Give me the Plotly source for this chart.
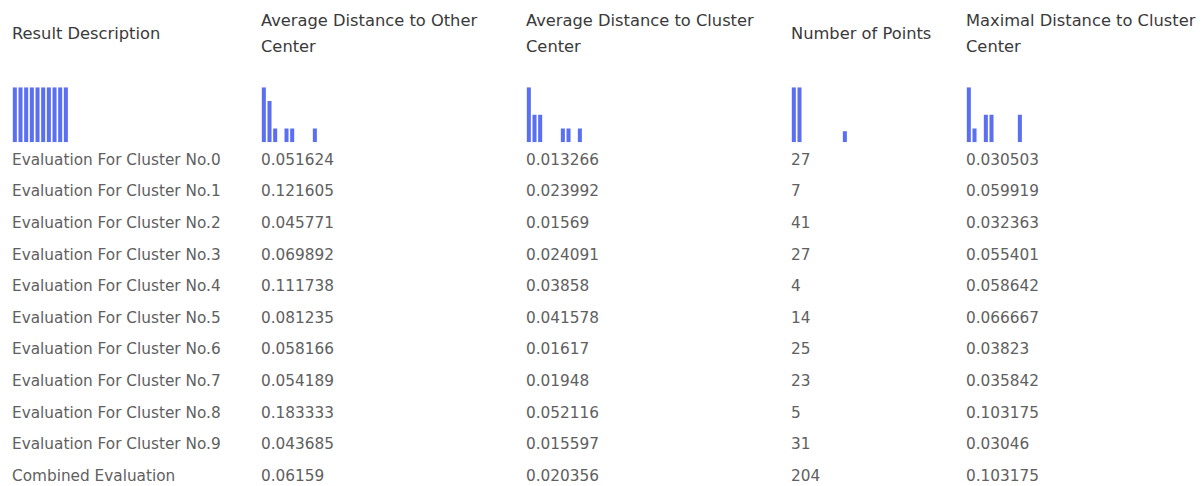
import numpy as np
import plotly.graph_objects as go

# ---------------- data ----------------
descriptions = [
    "Evaluation For Cluster No.0", "Evaluation For Cluster No.1", "Evaluation For Cluster No.2",
    "Evaluation For Cluster No.3", "Evaluation For Cluster No.4", "Evaluation For Cluster No.5",
    "Evaluation For Cluster No.6", "Evaluation For Cluster No.7", "Evaluation For Cluster No.8",
    "Evaluation For Cluster No.9", "Combined Evaluation",
]
avg_dist_other = [0.051624, 0.121605, 0.045771, 0.069892, 0.111738, 0.081235,
                  0.058166, 0.054189, 0.183333, 0.043685, 0.06159]
avg_dist_center = [0.013266, 0.023992, 0.01569, 0.024091, 0.03858, 0.041578,
                   0.01617, 0.01948, 0.052116, 0.015597, 0.020356]
num_points = [27, 7, 41, 27, 4, 14, 25, 23, 5, 31, 204]
max_dist_center = [0.030503, 0.059919, 0.032363, 0.055401, 0.058642, 0.066667,
                   0.03823, 0.035842, 0.103175, 0.03046, 0.103175]
headers = [
    ["Result Description"],
    ["Average Distance to Other", "Center"],
    ["Average Distance to Cluster", "Center"],
    ["Number of Points"],
    ["Maximal Distance to Cluster", "Center"],
]

# ---------------- layout constants ----------------
W, H = 1203, 486
COL_X = [12, 261, 526, 791, 966]
ROW0, ROW_H = 161, 31.6
HDR_SINGLE_Y, HDR_L1_Y, HDR_L2_Y = 35, 22, 48
BAR_TOP, BAR_BOT = 87.3, 142.3
HIST_W = 56.7
NBINS = 10
BAR_COLOR = "#5a6ff2"
FONT = "DejaVu Sans, sans-serif"
DATA_SIZE = 15.3
HDR_SIZE = 16.3

columns = [descriptions, avg_dist_other, avg_dist_center, num_points, max_dist_center]

fig = go.Figure()

# ---------------- data cells ----------------
cell_x, cell_y, cell_t = [], [], []
for c, col in enumerate(columns):
    for r, v in enumerate(col):
        cell_x.append(COL_X[c])
        cell_y.append(ROW0 + r * ROW_H)
        cell_t.append(str(v))
fig.add_trace(go.Scatter(
    x=cell_x, y=cell_y, text=cell_t, mode="text", textposition="middle right",
    textfont=dict(family=FONT, size=DATA_SIZE, color="#606060"),
    hoverinfo="skip", showlegend=False, xaxis="x", yaxis="y"))

# ---------------- header cells ----------------
hx, hy, ht = [], [], []
for c, lines in enumerate(headers):
    if len(lines) == 1:
        hx.append(COL_X[c]); hy.append(HDR_SINGLE_Y); ht.append(lines[0])
    else:
        hx += [COL_X[c], COL_X[c]]; hy += [HDR_L1_Y, HDR_L2_Y]; ht += lines
fig.add_trace(go.Scatter(
    x=hx, y=hy, text=ht, mode="text", textposition="middle right",
    textfont=dict(family=FONT, size=HDR_SIZE, color="#3a3a3a"),
    hoverinfo="skip", showlegend=False, xaxis="x", yaxis="y"))

# ---------------- mini histograms ----------------
layout_axes = {}
for c, col in enumerate(columns):
    if c == 0:
        uniq = list(dict.fromkeys(col))
        counts = [col.count(u) for u in uniq][:NBINS]
    else:
        counts, _ = np.histogram(np.array(col, dtype=float), bins=NBINS)
    idx = c + 2
    fig.add_trace(go.Bar(
        x=list(range(len(counts))), y=list(counts), marker=dict(color=BAR_COLOR, line_width=0),
        hoverinfo="skip", showlegend=False, xaxis=f"x{idx}", yaxis=f"y{idx}"))
    x0 = COL_X[c] / W
    layout_axes[f"xaxis{idx}"] = dict(domain=[x0, x0 + HIST_W / W], range=[-0.5, NBINS - 0.5],
                                      visible=False, fixedrange=True)
    layout_axes[f"yaxis{idx}"] = dict(domain=[(H - BAR_BOT) / H, (H - BAR_TOP) / H],
                                      range=[0, max(counts)], visible=False, fixedrange=True)

fig.update_layout(
    width=W, height=H, margin=dict(l=0, r=0, t=0, b=0),
    paper_bgcolor="white", plot_bgcolor="white", bargap=0.29,
    xaxis=dict(domain=[0, 1], range=[0, W], visible=False, fixedrange=True),
    yaxis=dict(domain=[0, 1], range=[H, 0], visible=False, fixedrange=True),
    **layout_axes,
)

fig.write_html("out.html", config={"displayModeBar": False},
               post_script="document.body.style.margin='0';document.body.style.overflow='hidden';")
